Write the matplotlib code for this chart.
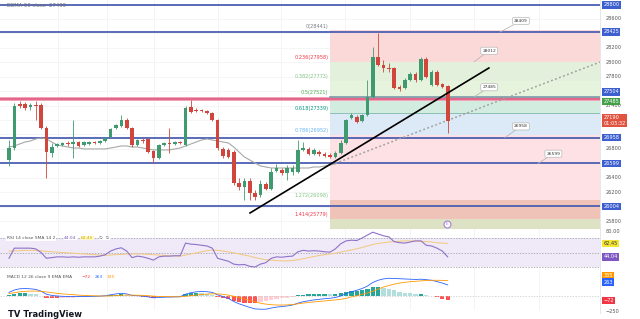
import matplotlib
matplotlib.use('Agg')
import matplotlib.pyplot as plt

# candles (price)
opens = [26647, 26813, 27423, 27423, 27381, 27409, 27409, 27090, 26744, 26841,
         26855, 26883, 26869, 26896, 26855, 26869, 26896, 26883, 26910, 26966,
         27090, 27118, 27201, 27090, 26855, 26924, 26938, 26772, 26675, 26855,
         26883, 26869, 26896, 26855, 27381, 27340, 27340, 27326, 27298, 27201,
         26800, 26786, 26758, 26329, 26273, 26356, 26190, 26162, 26315, 26246,
         26495, 26509, 26467, 26481, 26481, 26786, 26800, 26730, 26758, 26730,
         26716, 26689, 26744, 26883, 27229, 27243, 27187, 27270, 27520, 28074,
         27963, 27921, 27921, 27658, 27644, 27755, 27838, 27755, 28046, 27686,
         27866, 27700, 27672]
closes = [26813, 27395, 27395, 27367, 27409, 27395, 27090, 26758, 26827, 26869,
          26883, 26869, 26896, 26841, 26896, 26896, 26883, 26910, 26952, 27077,
          27132, 27201, 27090, 26855, 26924, 26910, 26758, 26675, 26855, 26883,
          26869, 26896, 26883, 27367, 27312, 27326, 27326, 27298, 27201, 26813,
          26703, 26689, 26329, 26273, 26356, 26190, 26135, 26315, 26246, 26481,
          26536, 26467, 26536, 26536, 26786, 26813, 26730, 26786, 26730, 26703,
          26689, 26744, 26883, 27201, 27270, 27174, 27270, 27520, 28074, 27963,
          27921, 27907, 27644, 27630, 27755, 27838, 27755, 28046, 27797, 27866,
          27686, 27658, 27190]
highs = [26924, 27437, 27464, 27450, 27437, 27464, 27437, 27118, 26883, 26883,
         26896, 26910, 27201, 26910, 26910, 26910, 26910, 26924, 26966, 27090,
         27146, 27270, 27229, 27104, 26938, 26952, 26952, 26786, 26869, 26896,
         27090, 26910, 26910, 27395, 27478, 27367, 27353, 27340, 27312, 27215,
         26827, 26813, 26786, 26398, 26398, 26398, 26232, 26370, 26342, 26536,
         26592, 26536, 26578, 26578, 26924, 26896, 26827, 26813, 26786, 26758,
         26744, 26772, 26924, 27215, 27298, 27270, 27284, 27755, 28212, 28406,
         28032, 27990, 27935, 27686, 27783, 27866, 27866, 28074, 28074, 27894,
         27894, 27713, 27686]
lows = [26564, 26786, 27367, 27340, 27340, 27201, 27077, 26398, 26689, 26827,
        26841, 26841, 26675, 26827, 26841, 26855, 26869, 26869, 26896, 26952,
        27077, 27104, 27077, 26827, 26841, 26883, 26744, 26606, 26661, 26841,
        26744, 26855, 26869, 26841, 27298, 27312, 27312, 27284, 27187, 26786,
        26675, 26675, 26301, 26232, 26093, 26093, 26093, 26135, 26232, 26232,
        26481, 26439, 26370, 26439, 26467, 26772, 26716, 26716, 26703, 26689,
        26675, 26675, 26730, 26869, 27215, 27160, 27174, 27257, 27506, 27949,
        27866, 27866, 27630, 27603, 27630, 27741, 27727, 27741, 27783, 27672,
        27672, 27644, 27021]

dema = [26827, 26841, 26869, 26896, 26910, 26938, 26952, 26938, 26896, 26855,
        26841, 26827, 26813, 26813, 26800, 26800, 26800, 26800, 26800, 26813,
        26827, 26841, 26841, 26827, 26827, 26813, 26800, 26786, 26786, 26786,
        26786, 26800, 26813, 26841, 26869, 26896, 26924, 26938, 26924, 26910,
        26896, 26883, 26827, 26758, 26689, 26647, 26606, 26564, 26550, 26536,
        26536, 26536, 26536, 26536, 26536, 26536, 26536, 26550, 26550, 26564,
        26578, 26592]

rsi = [42, 56, 56, 56, 56, 55, 50, 42, 43, 44,
       44, 43.5, 44, 43.5, 44, 44, 44, 45, 47, 52,
       55, 56.5, 52, 43, 45, 44, 42, 39.5, 44, 45,
       45, 45.5, 45.5, 63, 61.5, 61, 60, 59, 56, 42,
       40, 38, 34, 33, 33.5, 31, 30, 34, 36, 42,
       44, 43.5, 44.5, 45, 51, 53, 52, 52.5, 52, 51,
       50.5, 55, 62, 66, 67, 66.5, 70, 74, 78, 75.5,
       73, 71.5, 65, 63.5, 63, 64.5, 66, 66, 60, 59,
       56, 52, 44.04]
rsi_ma = [52, 52, 52.5, 53, 53, 53, 52.5, 51.5, 51, 50.5,
          50, 49.5, 49, 48.5, 48, 47.5, 47, 46.5, 46, 46.5,
          47, 47.5, 48, 48, 48, 48, 47.5, 47, 46.5, 46,
          45.5, 45.5, 45, 46.5, 48, 49.5, 51, 52.5, 53.5, 53,
          52, 51, 49.5, 48, 46.5, 45, 43, 41.5, 40, 39.5,
          39, 38.5, 38.5, 39, 40, 41.5, 43, 44.5, 46, 47,
          48, 49, 50.5, 52, 53.5, 55, 57, 59, 61, 62.5,
          63.5, 64.5, 65, 65.5, 66, 66, 66, 65.5, 65, 64.5,
          63.5, 63, 62.45]

macd = [60, 100, 120, 125, 120, 110, 80, 30, 10, 0,
        -5, -8, -8, -10, -8, -7, -5, -2, 5, 20,
        35, 45, 35, 10, 5, 0, -15, -30, -25, -20,
        -18, -15, -12, 30, 55, 70, 75, 72, 60, 20,
        -10, -40, -90, -130, -160, -190, -215, -220, -220, -200,
        -185, -175, -165, -150, -120, -95, -80, -65, -55, -45,
        -38, -25, 0, 40, 70, 95, 125, 165, 225, 262,
        285, 295, 292, 288, 283, 280, 275, 280, 272, 262,
        240, 215, 185]
signal = [40, 55, 70, 78, 82, 82, 78, 68, 55, 45,
          35, 28, 22, 15, 10, 6, 3, 0, 0, 2,
          7, 12, 16, 15, 13, 10, 5, -2, -7, -10,
          -12, -13, -13, -5, 5, 15, 25, 32, 37, 35,
          28, 15, -5, -25, -50, -75, -97, -120, -135, -145,
          -150, -150, -148, -142, -130, -118, -108, -98, -90, -82,
          -74, -65, -55, -40, -15, 5, 28, 50, 80, 115,
          150, 175, 198, 215, 228, 238, 245, 252, 258, 262,
          262, 260, 257]
hist = [20, 40, 45, 45, 38, 28, 5, -30, -40, -40,
        -35, -30, -25, -20, -15, -12, -8, -4, 2, 12,
        22, 28, 20, 0, -6, -10, -18, -25, -22, -18,
        -14, -10, -6, 30, 48, 55, 50, 40, 25, -12,
        -35, -55, -85, -105, -110, -115, -118, -100, -85, -60,
        -45, -35, -25, -15, 10, 22, 28, 33, 35, 37,
        36, 40, 55, 75, 85, 90, 97, 115, 145, 147,
        135, 120, 94, 73, 55, 42, 30, 32, 14, -8,
        -22, -45, -72]

blue_levels = [28794, 28420, 26958, 26599, 26004]
blue_labels = ['28800', '28425', '26958', '26599', '26004']
zone_low, zone_high = 27464, 27520

fib_start = 60
fib_prices = [28441, 28006, 27737, 27520, 27303, 26993, 26599, 26098, 25836]
fib_texts = ['0(28441)', '0.236(27958)', '0.382(27773)', '0.5(27521)', '0.618(27339)',
             '0.786(26952)', '', '1.272(26098)', '1.414(25779)']
fib_text_colors = ['#787b86', '#f23645', '#81c784', '#4caf50', '#089981',
                   '#64b5f6', '#787b86', '#81c784', '#f23645']
fib_fills = ['#fcd9d9', '#e3f1dc', '#e6f3dd', '#d3ece0', '#dce9f6',
             '#fde1e4', '#fde1e4', '#efc3b8', '#dde2c4']

price_ticks = [28600, 28200, 28000, 27800, 27400, 26800, 26400, 26200, 25800]

callouts = [('28409', 91.8, 28420, 15, 8), ('28012', 86.9, 28006, 11, 8),
            ('27485', 86.9, 27520, 11, 7), ('26958', 92.7, 26958, 11.5, 8),
            ('26599', 98.9, 26599, 11, 7)]

n = len(opens)
xs = list(range(n))
xmin, xmax = -1.68, 110.47
green, red = '#3f9b6f', '#d0463c'

fig = plt.figure(figsize=(6.4, 3.19), dpi=100)
ax = fig.add_axes([0, 1 - 229 / 319, 600 / 640, 229 / 319])
ax_rsi = fig.add_axes([0, 1 - 270 / 319, 600 / 640, 41 / 319])
ax_macd = fig.add_axes([0, 1 - 310 / 319, 600 / 640, 40 / 319])

for a in (ax, ax_rsi, ax_macd):
    a.set_xlim(xmin, xmax)
    a.set_xticks([])
    a.set_yticks([])
    for s in a.spines.values():
        s.set_visible(False)
    for gx in [9.2, 18.3, 27.1, 39.1, 50.8, 62.8, 75, 86.9, 99.1]:
        a.axvline(gx, color='#f2f2f2', lw=0.6, zorder=0)

# main chart
ax.set_ylim(25691, 28863)
for p in range(25800, 28900, 200):
    ax.axhline(p, color='#f4f4f4', lw=0.6, zorder=0)

for k in range(len(fib_prices)):
    lo = fib_prices[k + 1] if k + 1 < len(fib_prices) else 25691
    ax.fill_between([fib_start, xmax], lo, fib_prices[k], color=fib_fills[k], lw=0, zorder=1)
    if fib_texts[k]:
        ax.text(fib_start - 0.3, fib_prices[k] + 25, fib_texts[k], ha='right', va='bottom',
                fontsize=3.6, color=fib_text_colors[k])

ax.axhspan(zone_low, zone_high, color='#f3a3b6', lw=0, zorder=2)
ax.axhline((zone_low + zone_high) / 2, color='#e2668a', lw=1.4, zorder=2)
ax.plot([fib_start, xmax], [fib_prices[3], fib_prices[3]], color='#7a9aa8', lw=1.2, zorder=2)
ax.plot([fib_start, xmax], [fib_prices[4], fib_prices[4]], color='#7fb8a8', lw=0.6, zorder=2)
for lv in blue_levels:
    ax.axhline(lv, color='#4c5fb3', lw=1.3, zorder=3)

ax.plot(range(len(dema)), dema, color='#a8a8a8', lw=0.8, zorder=4)
ax.plot([61, 110.5], [26600, 28004], color='#a0a0a0', lw=1.1, ls=(0, (1.2, 1.6)), zorder=4)
ax.plot([45.05, 89.7], [25913, 27921], color='black', lw=1.2, zorder=6)

for i in xs:
    c = green if closes[i] >= opens[i] else red
    ax.vlines(i, lows[i], highs[i], color=c, lw=0.6, zorder=5)
    h = closes[i] - opens[i]
    if abs(h) < 12:
        h = 12 if h >= 0 else -12
    ax.bar(i, h, bottom=opens[i], width=0.68, color=c, lw=0, zorder=5)

for txt, cx, cy, dx, dy in callouts:
    ax.annotate(txt, xy=(cx, cy), xytext=(dx, dy), textcoords='offset points',
                fontsize=3.2, color='#333333', ha='center', va='center',
                bbox=dict(boxstyle='round,pad=0.35', fc='white', ec='#b8b8b8', lw=0.5),
                arrowprops=dict(arrowstyle='-', color='#b8b8b8', lw=0.6, shrinkA=0, shrinkB=0),
                zorder=7)

ax.plot(81.9, 25761, 'o', ms=5, mfc='white', mec='#a57fd8', mew=0.8, zorder=7)
ax.text(81.9, 25761, 'E', fontsize=2.8, color='#a57fd8', ha='center', va='center', zorder=8)
ax.text(0.012, 0.985, 'DEMA 50 close  27499', transform=ax.transAxes, fontsize=3.8,
        color='#6a6d78', va='top')

# price scale
for p in price_ticks:
    ax.annotate(str(p), xy=(1, p), xycoords=('axes fraction', 'data'), xytext=(4, 0),
                textcoords='offset points', fontsize=3.6, color='#555555', va='center')


def tag(a, val, text, col, dy=0, fc='white'):
    a.annotate(text, xy=(1, val), xycoords=('axes fraction', 'data'), xytext=(2.5, dy),
               textcoords='offset points', fontsize=3.6, color=fc, va='center',
               bbox=dict(boxstyle='square,pad=0.25', fc=col, ec='none'))


for lv, lab in zip(blue_levels, blue_labels):
    tag(ax, lv, lab, '#3d5fd0')
tag(ax, 27504, '27504', '#3d5fd0', dy=4.5)
tag(ax, 27485, '27485', '#43a047', dy=-1.5)
tag(ax, 27190, '27190\n01:05:32', '#e0533f', dy=0)

# RSI
ax_rsi.set_ylim(25.9, 82.4)
ax_rsi.axhspan(30, 70, color='#efe9f8', lw=0, zorder=0)
for lv in (70, 50, 30):
    ax_rsi.axhline(lv, color='#9598a1', lw=0.5, ls=(0, (2, 2)), zorder=1)
ax_rsi.plot(xs, rsi_ma, color='#f2c87a', lw=0.7, zorder=2)
ax_rsi.plot(xs, rsi, color='#8e72c9', lw=0.8, zorder=3)
ytr = ax_rsi.get_yaxis_transform()
ax_rsi.text(0.012, 70, 'RSI 14 close SMA 14 2', fontsize=3.2, color='#555555',
            transform=ytr, va='center', bbox=dict(fc='white', ec='none', pad=0.5))
ax_rsi.text(0.107, 70, '44.04', fontsize=3.2, color='#7e57c2', transform=ytr, va='center',
            bbox=dict(fc='white', ec='none', pad=0.3))
ax_rsi.text(0.135, 70, '62.45', fontsize=3.2, color='#d4a800', transform=ytr, va='center',
            bbox=dict(fc='#fff8c4', ec='none', pad=0.3))
ax_rsi.text(0.165, 70, '\u2205  \u2205', fontsize=3.2, color='#555555', transform=ytr,
            va='center', bbox=dict(fc='white', ec='none', pad=0.3))
ax_rsi.annotate('80.00', xy=(1, 79), xycoords=('axes fraction', 'data'), xytext=(4, 0),
                textcoords='offset points', fontsize=3.6, color='#555555', va='center')
tag(ax_rsi, 62.45, '62.45', '#f5e634', fc='#333333')
tag(ax_rsi, 44.04, '44.04', '#7e57c2')

# MACD
ax_macd.set_ylim(-233, 433)
ax_macd.axhline(0, color='#c8c8c8', lw=0.5, ls=(0, (2, 2)))
cols = []
for i in xs:
    prev = hist[i - 1] if i > 0 else hist[i]
    if hist[i] >= 0:
        cols.append('#26a69a' if hist[i] >= prev else '#b2dfdb')
    else:
        cols.append('#ff5252' if hist[i] <= prev else '#ffcdd2')
ax_macd.bar(xs, hist, width=0.8, color=cols, lw=0, zorder=1)
ax_macd.plot(xs, macd, color='#2962ff', lw=0.6, zorder=2)
ax_macd.plot(xs, signal, color='#ff9800', lw=0.6, zorder=2)
ax_macd.text(0.012, 0.82, 'MACD 12 26 close 9 EMA EMA', transform=ax_macd.transAxes,
             fontsize=3.2, color='#555555', va='center')
ax_macd.text(0.135, 0.82, '\u221272', transform=ax_macd.transAxes, fontsize=3.2, color='#f23645', va='center')
ax_macd.text(0.158, 0.82, '263', transform=ax_macd.transAxes, fontsize=3.2, color='#2962ff', va='center')
ax_macd.text(0.178, 0.82, '335', transform=ax_macd.transAxes, fontsize=3.2, color='#ff9800', va='center')
tag(ax_macd, 335, '335', '#ff9800')
tag(ax_macd, 230, '263', '#2962ff')
tag(ax_macd, -72, '\u221272', '#f23645')
ax_macd.annotate('\u2212250', xy=(1, -250), xycoords=('axes fraction', 'data'), xytext=(4, 0),
                 textcoords='offset points', fontsize=3.6, color='#555555', va='center',
                 annotation_clip=False)

fig.add_artist(plt.Line2D([600 / 640, 600 / 640], [0.02, 1], color='#e0e3eb', lw=0.6))
fig.text(8 / 640, 1 - 310 / 319, 'TV TradingView', fontsize=6, weight='bold',
         color='#131722', va='top')

fig.savefig('out.png', dpi=100)
